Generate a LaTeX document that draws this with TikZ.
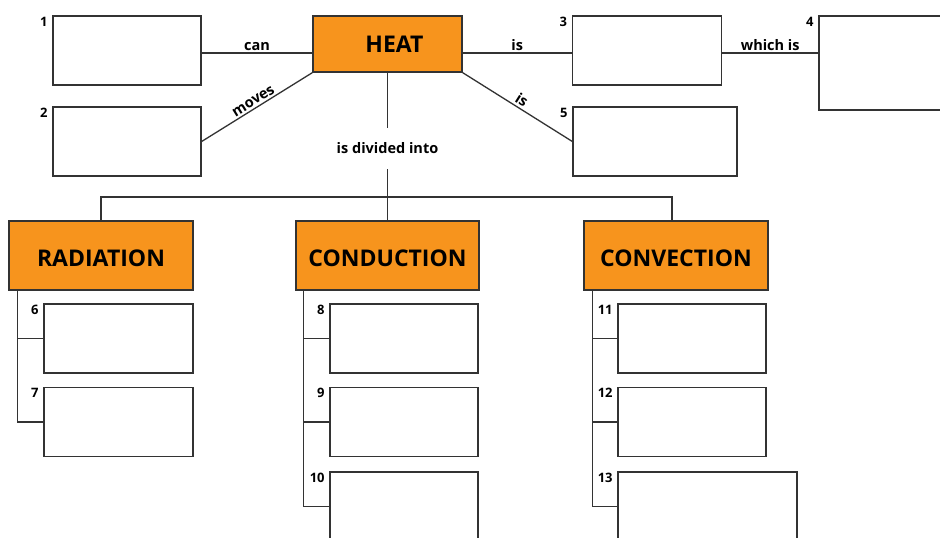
\documentclass[tikz,border=0pt]{standalone}
\usepackage{fontspec}
\setmainfont{Open Sans}
\usetikzlibrary{calc}
\definecolor{heatorange}{HTML}{F7941D}
\definecolor{ink}{HTML}{333333}
\begin{document}
\begin{tikzpicture}[x=1pt,y=-1pt,
  every node/.style={font=\bfseries},
  blank/.style={draw=ink, line width=1.3pt, fill=white, minimum width=148pt, minimum height=69pt, inner sep=0pt},
  topic/.style={draw=ink, line width=1.3pt, fill=heatorange, minimum width=184pt, minimum height=69pt, inner sep=0pt, font=\bfseries\fontsize{23}{25}\selectfont},
  lowtext/.style={text height=22pt, text depth=0pt},
  num/.style={anchor=north east, inner sep=0pt, font=\bfseries\fontsize{13}{14}\selectfont},
  lbl/.style={font=\bfseries\fontsize{14.5}{16}\selectfont, inner sep=2pt},
  link/.style={draw=ink, line width=1.3pt}
]
\useasboundingbox (0,0) rectangle (940,538);
\fill[white] (0,0) rectangle (940,538);
% main nodes
\node[topic, minimum width=149pt, minimum height=56pt] (heat) at (387.5,44) {\hspace*{14pt}HEAT};
\node[blank] (b1) at (127,50.5) {};
\node[blank] (b2) at (127,141.5) {};
\node[blank, minimum width=149pt] (b3) at (647,50.5) {};
\node[blank, minimum height=94pt] (b4) at (893,63) {};
\node[blank, minimum width=164pt] (b5) at (655,141.5) {};
\node[lbl, minimum height=41pt] (div) at (387.5,148.5) {is divided into};
\node[topic, lowtext] (rad) at (101,255.5) {RADIATION};
\node[topic, lowtext, minimum width=183pt] (cond) at (387.5,255.5) {CONDUCTION};
\node[topic, lowtext] (conv) at (676,255.5) {CONVECTION};
\node[blank, minimum width=149pt] (b6) at (118.5,338.5) {};
\node[blank, minimum width=149pt] (b7) at (118.5,422) {};
\node[blank] (b8) at (404,338.5) {};
\node[blank] (b9) at (404,422) {};
\node[blank] (b10) at (404,506.5) {};
\node[blank] (b11) at (692,338.5) {};
\node[blank] (b12) at (692,422) {};
\node[blank, minimum width=179pt] (b13) at (707.5,506.5) {};
% numbers
\foreach \b/\n in {b1/1,b2/2,b3/3,b4/4,b5/5,b6/6,b7/7,b8/8,b9/9,b10/10,b11/11,b12/12,b13/13}{
  \node[num] (n\n) at ([xshift=-4.5pt,yshift=-1.5pt]\b.north west) {\n};
}
% top connectors
\coordinate (row) at (0,53);
\draw[link] (b1.east |- row) -- (heat.west |- row) node[lbl, midway, above] {can};
\draw[link] (heat.east |- row) -- (b3.west |- row) node[lbl, midway, above] {is};
\draw[link] (b3.east |- row) -- (b4.west |- row) node[lbl, midway, above] {which is};
\draw[link] (b2.east) -- (heat.south west) node[lbl, midway, above, sloped] {moves};
\draw[link] (heat.south east) -- (b5.west) node[lbl, midway, above, sloped] {is};
\draw[link] (heat.south) -- (div.north);
\draw[link] (div.south) -- (cond.north);
\coordinate (jr) at (672,197);
\draw[link] (rad.north) |- (jr) -- (jr |- conv.north);
% sub connectors
\coordinate (rv) at ([xshift=9pt]rad.south west);
\draw[link] (rv) |- (b7.west);
\draw[link] (rv |- b6.west) -- (b6.west);
\coordinate (cv) at ([xshift=8pt]cond.south west);
\draw[link] (cv) |- (b10.west);
\draw[link] (cv |- b8.west) -- (b8.west);
\draw[link] (cv |- b9.west) -- (b9.west);
\coordinate (vv) at ([xshift=9pt]conv.south west);
\draw[link] (vv) |- (b13.west);
\draw[link] (vv |- b11.west) -- (b11.west);
\draw[link] (vv |- b12.west) -- (b12.west);
\end{tikzpicture}
\end{document}
